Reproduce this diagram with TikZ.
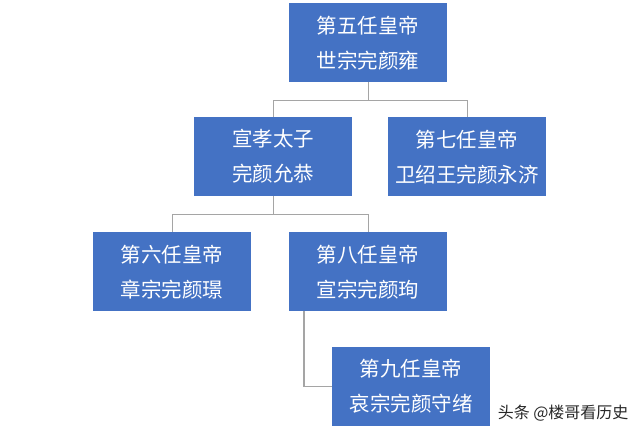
\documentclass[tikz,border=0pt]{standalone}
\usepackage{fontspec}
\newfontfamily\cjk{Noto Sans CJK SC}
\begin{document}
\begin{tikzpicture}[x=1pt,y=-1pt,
  box/.style={draw=none,fill={rgb,255:red,68;green,114;blue,196},text=white,minimum width=158pt,minimum height=79pt,inner sep=0pt,align=center,font=\cjk\fontsize{20.5}{35}\selectfont,anchor=north west},
  conn/.style={draw={rgb,255:red,165;green,165;blue,165},line width=1.2pt}]
\useasboundingbox (0,0) rectangle (640,435);
\fill[white] (0,0) rectangle (640,435);
\node[box] (b1) at (289,3) {第五任皇帝\\世宗完颜雍};
\node[box] (b2) at (194,117) {宣孝太子\\完颜允恭};
\node[box] (b3) at (388,117) {第七任皇帝\\卫绍王完颜永济};
\node[box] (b4) at (93,232) {第六任皇帝\\章宗完颜璟};
\node[box] (b5) at (289,232) {第八任皇帝\\宣宗完颜珣};
\node[box] (b6) at (332,347) {第九任皇帝\\哀宗完颜守绪};
\draw[conn] (b1.south) -- ++(0,18) -| (b2.north);
\draw[conn] (b1.south) -- ++(0,18) -| (b3.north);
\draw[conn] (b2.south) -- ++(0,18) -| (b4.north);
\draw[conn] (b2.south) -- ++(0,18) -| (b5.north);
\draw[conn] ([xshift=15pt]b5.south west) |- (b6.west);
\node[font=\cjk\fontsize{16}{16}\selectfont,text={rgb,255:red,40;green,40;blue,40},anchor=east] (wm) at (632,413) {头条 @楼哥看历史};
\end{tikzpicture}
\end{document}
